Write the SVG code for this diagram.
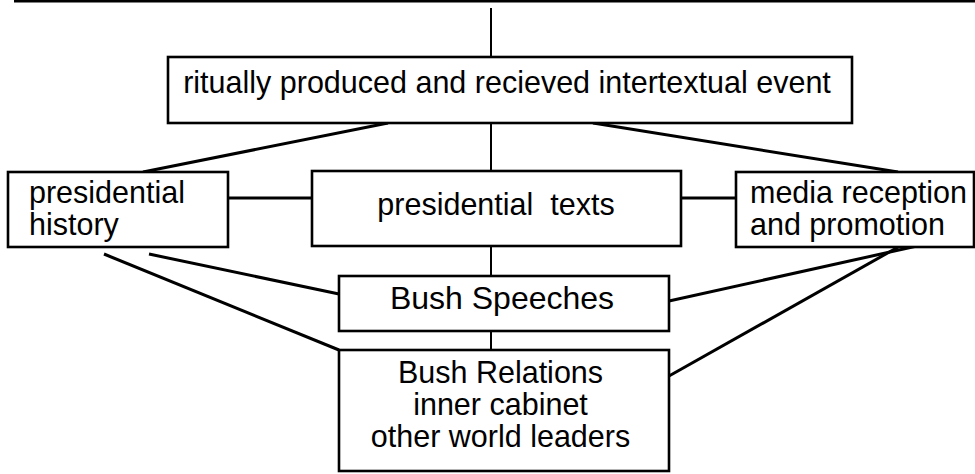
<svg xmlns="http://www.w3.org/2000/svg" width="975" height="474" viewBox="0 0 975 474">
<style>
.box{fill:#fff;stroke:#000;stroke-width:2.6}
.t{font-family:"Liberation Sans",Arial,Helvetica,sans-serif;font-size:30.5px;fill:#000}
.c{text-anchor:middle}
.ln{stroke:#000;stroke-width:3;fill:none;stroke-linecap:butt}
.vl{stroke:#000;stroke-width:2;fill:none}
</style>
<rect width="975" height="474" fill="#fff"/>
<g id="connectors">
<line class="ln" x1="14" y1="1.3" x2="975" y2="1.3" style="stroke-width:2.6"/>
<line class="vl" x1="491" y1="8" x2="491" y2="57"/>
<line class="vl" x1="491" y1="123" x2="491" y2="171"/>
<line class="vl" x1="491" y1="246" x2="491" y2="276"/>
<line class="vl" x1="491" y1="331" x2="491" y2="350"/>
<line class="ln" x1="388" y1="123" x2="143" y2="172"/>
<line class="ln" x1="593" y1="123" x2="898" y2="172"/>
<line class="ln" x1="228" y1="198" x2="312" y2="198"/>
<line class="ln" x1="681" y1="198" x2="736" y2="198"/>
<line class="ln" x1="149" y1="254" x2="339" y2="294"/>
<line class="ln" x1="104" y1="254" x2="339" y2="350"/>
<line class="ln" x1="669" y1="301" x2="917" y2="246"/>
<line class="ln" x1="669" y1="376" x2="900" y2="246"/>
</g>
<g id="event">
<rect class="box" x="168" y="57" width="684" height="66"/>
<text class="t c" x="507" y="93">ritually produced and recieved intertextual event</text>
</g>
<g id="history">
<rect class="box" x="8" y="172" width="220" height="75"/>
<text class="t" x="29" y="203">presidential</text>
<text class="t" x="29" y="235">history</text>
</g>
<g id="texts">
<rect class="box" x="312" y="171" width="369" height="75"/>
<text class="t c" x="496" y="215" xml:space="preserve">presidential  texts</text>
</g>
<g id="media">
<rect class="box" x="736" y="172" width="238" height="75"/>
<text class="t" x="750" y="203">media reception</text>
<text class="t" x="750" y="235">and promotion</text>
</g>
<g id="speeches">
<rect class="box" x="339" y="276" width="330" height="55"/>
<text class="t c" x="502" y="309" style="font-size:32px">Bush Speeches</text>
</g>
<g id="relations">
<rect class="box" x="339" y="350" width="330" height="121"/>
<text class="t c" x="500.5" y="383">Bush Relations</text>
<text class="t c" x="500.5" y="415">inner cabinet</text>
<text class="t c" x="500.5" y="447">other world leaders</text>
</g>
</svg>
